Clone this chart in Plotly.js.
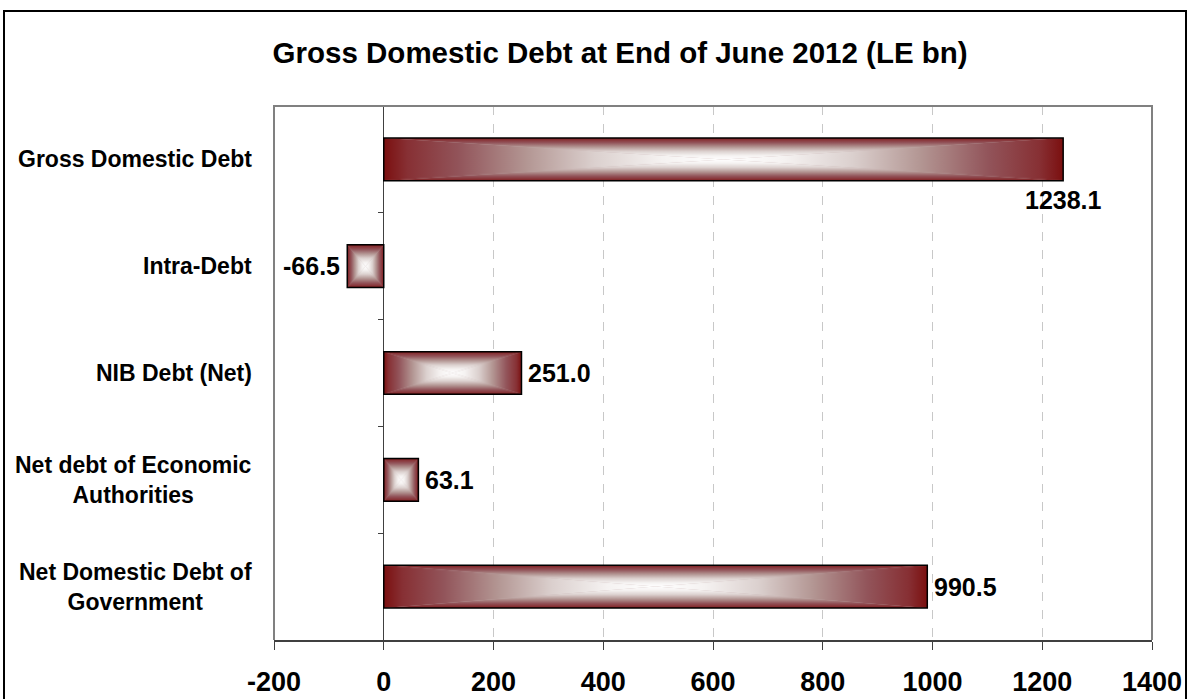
<!DOCTYPE html>
<html>
<head>
<meta charset="utf-8">
<script src="https://cdn.plot.ly/plotly-3.0.1.min.js"></script>
<style>
  html, body { margin: 0; padding: 0; background: #ffffff; }
  #wrap { position: relative; width: 1188px; height: 699px; overflow: hidden; }
  #chart { position: absolute; left: 0; top: 0; width: 1188px; height: 699px; }
  #frame { position: absolute; left: 3px; top: 10px; width: 1184px; height: 760px;
           border: 2px solid #000; box-sizing: border-box; pointer-events: none; }
</style>
</head>
<body>
<div id="wrap">
  <div id="chart"></div>
  <div id="frame"></div>
</div>
<script>
// ---- data ----
const categories = ['Gross Domestic Debt', 'Intra-Debt', 'NIB Debt (Net)',
                    'Net debt of Economic<br>Authorities', 'Net Domestic Debt of<br>Government'];
const values = [1238.1, -66.5, 251.0, 63.1, 990.5];
const labelPos = ['below', 'left', 'right', 'right', 'right'];
const xTicks = [-200, 0, 200, 400, 600, 800, 1000, 1200, 1400];
const xRange = [-200, 1400];
const title = 'Gross Domestic Debt at End of June 2012 (LE bn)';

const FONT = 'Liberation Sans, Arial, sans-serif';
const boundaryTicks = categories.slice(1).map((c, i) => i + 0.5);

const barTrace = {
  type: 'bar',
  orientation: 'h',
  y: categories,
  x: values,
  width: 0.4,
  marker: { color: '#a46a6a', line: { color: '#000000', width: 1.5 } },
  hoverinfo: 'x+y',
  showlegend: false
};
const tickTrace = { type: 'scatter', x: [], y: [], yaxis: 'y2', hoverinfo: 'skip', showlegend: false };

const catAnnotations = categories.map(c => ({
  xref: 'paper', x: 0, xanchor: 'right', xshift: -20,
  yref: 'y', y: c, yanchor: 'middle', align: 'center',
  text: c, showarrow: false,
  font: { family: FONT, size: 23, weight: 700, color: '#000' }
}));

const valAnnotations = values.map((v, i) => {
  const a = {
    xref: 'x', yref: 'y', x: v, y: categories[i], text: v.toFixed(1), showarrow: false,
    font: { family: FONT, size: 25, weight: 700, color: '#000' }, yanchor: 'middle'
  };
  if (labelPos[i] === 'below') { a.xanchor = 'center'; a.yshift = -41; }
  else if (labelPos[i] === 'left') { a.xanchor = 'right'; a.xshift = -5; }
  else { a.xanchor = 'left'; a.xshift = 5; }
  return a;
});

const layout = {
  width: 1188, height: 699,
  margin: { l: 274, r: 36, t: 106, b: 59, pad: 0 },
  paper_bgcolor: 'rgba(0,0,0,0)',
  plot_bgcolor: '#ffffff',
  title: {
    text: title, x: 0.522, xanchor: 'center', y: 0.925, yanchor: 'middle',
    font: { family: FONT, size: 29.5, weight: 700, color: '#000' }
  },
  xaxis: {
    range: xRange, tickmode: 'array', tickvals: xTicks, ticktext: xTicks.map(String),
    showgrid: true, gridcolor: '#c8c8c8', gridwidth: 1, griddash: 'dash',
    zeroline: true, zerolinecolor: '#404040', zerolinewidth: 1,
    showline: true, linecolor: '#404040', linewidth: 2,
    ticks: 'outside', ticklen: 8, tickcolor: '#404040', tickwidth: 1,
    ticklabelstandoff: 9,
    tickfont: { family: FONT, size: 27, weight: 700, color: '#000' },
    fixedrange: true
  },
  yaxis: {
    type: 'category', categoryorder: 'array', categoryarray: categories,
    range: [categories.length - 0.5, -0.5],
    showticklabels: false, showgrid: false, zeroline: false, showline: false, ticks: '',
    fixedrange: true
  },
  yaxis2: {
    overlaying: 'y', anchor: 'free',
    position: (0 - xRange[0]) / (xRange[1] - xRange[0]),
    side: 'left', range: [categories.length - 0.5, -0.5],
    tickmode: 'array', tickvals: boundaryTicks, ticks: 'outside', ticklen: 6,
    tickcolor: '#404040', tickwidth: 1,
    showticklabels: false, showgrid: false, zeroline: false, showline: false,
    fixedrange: true
  },
  shapes: [{
    type: 'path', xref: 'paper', yref: 'paper', path: 'M0,0 L0,1 L1,1 L1,0',
    line: { color: '#808080', width: 2 }, layer: 'above'
  }],
  annotations: catAnnotations.concat(valAnnotations),
  showlegend: false
};

Plotly.newPlot('chart', [barTrace, tickTrace], layout, { displayModeBar: false, staticPlot: true }).then(gd => {
  const NS = 'http://www.w3.org/2000/svg';
  const svg = gd.querySelector('svg.main-svg');
  const defs = document.createElementNS(NS, 'defs');
  const stops = [
    [0, '#7b0f0f'], [0.07, '#873034'], [0.22, '#92545a'], [0.42, '#b39693'],
    [0.62, '#dbd0ce'], [0.82, '#f5f2f1'], [1, '#ffffff']
  ];
  function grad(id, x1, y1, x2, y2) {
    const g = document.createElementNS(NS, 'linearGradient');
    g.setAttribute('id', id);
    g.setAttribute('x1', x1); g.setAttribute('y1', y1);
    g.setAttribute('x2', x2); g.setAttribute('y2', y2);
    stops.forEach(s => {
      const st = document.createElementNS(NS, 'stop');
      st.setAttribute('offset', s[0]);
      st.setAttribute('stop-color', s[1]);
      g.appendChild(st);
    });
    defs.appendChild(g);
  }
  grad('gL', 0, 0, 1, 0);
  grad('gR', 1, 0, 0, 0);
  grad('gT', 0, 0, 0, 1);
  grad('gB', 0, 1, 0, 0);
  const pat = document.createElementNS(NS, 'pattern');
  pat.setAttribute('id', 'rectGrad');
  pat.setAttribute('patternUnits', 'objectBoundingBox');
  pat.setAttribute('patternContentUnits', 'objectBoundingBox');
  pat.setAttribute('x', 0); pat.setAttribute('y', 0);
  pat.setAttribute('width', 1); pat.setAttribute('height', 1);
  const bg = document.createElementNS(NS, 'rect');
  bg.setAttribute('x', 0); bg.setAttribute('y', 0);
  bg.setAttribute('width', 1); bg.setAttribute('height', 1);
  bg.setAttribute('fill', '#c0a8a8');
  pat.appendChild(bg);
  [['0,0 0.5,0.5 0,1', 'gL'], ['1,0 0.5,0.5 1,1', 'gR'],
   ['0,0 1,0 0.5,0.5', 'gT'], ['0,1 1,1 0.5,0.5', 'gB']].forEach(p => {
    const poly = document.createElementNS(NS, 'polygon');
    poly.setAttribute('points', p[0]);
    poly.setAttribute('fill', 'url(#' + p[1] + ')');
    pat.appendChild(poly);
  });
  defs.appendChild(pat);
  svg.insertBefore(defs, svg.firstChild);
  gd.querySelectorAll('.barlayer .point path').forEach(p => {
    p.style.fill = 'url(#rectGrad)';
  });
});
</script>
</body>
</html>
